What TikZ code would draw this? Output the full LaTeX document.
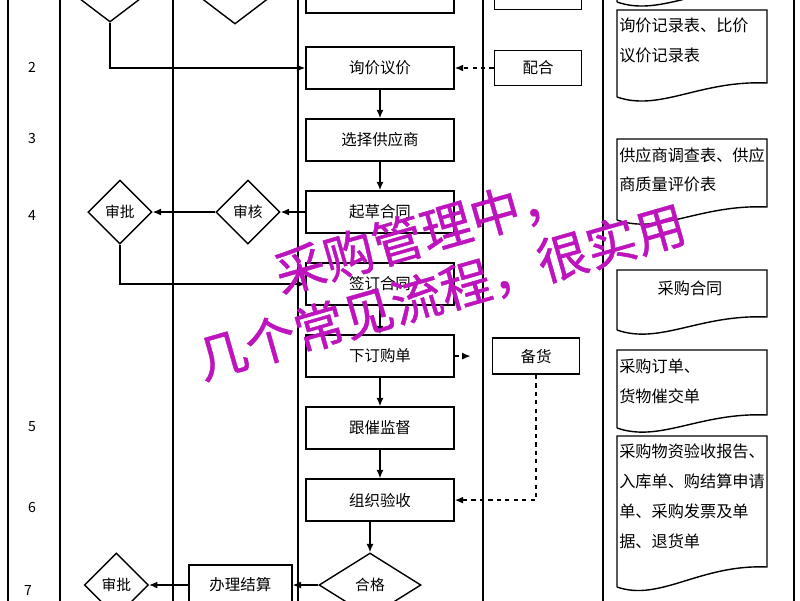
\documentclass[tikz,border=0pt]{standalone}
\usepackage{fontspec}
\setmainfont{Noto Sans CJK SC}
\newfontfamily\wmfont[FakeBold=0.9]{Noto Sans CJK SC}
\usepackage{tikz}
\usetikzlibrary{shapes, arrows, arrows.meta, positioning}
\definecolor{wmpurple}{RGB}{190,20,190}

\begin{document}
\begin{tikzpicture}[auto,>={Latex[length=6pt,width=5pt]}, x=0.025cm, y=-0.025cm]

\tikzstyle{block} = [draw, shape=rectangle, minimum height=1.05cm, minimum width=3.7cm, node distance=1.8cm, line width=1.1pt, font=\fontsize{11}{13}\selectfont]
\tikzstyle{side} = [draw, shape=rectangle, minimum height=0.88cm, minimum width=2.18cm, line width=1.1pt, font=\fontsize{11}{13}\selectfont]
\tikzstyle{check} = [draw, shape=diamond, minimum height=1.6cm, minimum width=1.6cm, inner sep=0pt, line width=1pt, font=\fontsize{10.5}{12}\selectfont]
\tikzstyle{doctext} = [anchor=north west, align=left, inner sep=0pt, font=\fontsize{11.5}{21.3}\selectfont]
\tikzstyle{lane} = [line width=1pt]
\tikzstyle{num} = [font=\fontsize{10}{12}\selectfont]
\tikzstyle{wm} = [text=wmpurple, font=\wmfont\fontsize{36}{40}\selectfont, rotate=16]

\useasboundingbox (0,0) rectangle (800,600);
\fill[white] (0,0) rectangle (800,600);
\clip (0,0) rectangle (800,600);

%Swim Lanes and Row Numbers
\foreach \x in {8,60,173,298,483,603,794}
  \draw[lane] (\x,-10) -- (\x,610);
\foreach \n/\y in {2/67,3/138,4/215,5/427,6/507}
  \node[num] (row\n) at (32,\y) {\n};
\node[num] (row7) at (28,590) {7};

%Creating Blocks and Decision Nodes
\node[block] at (380,68) (xj) {询价议价};
\node[block, node distance=1.9cm, above of=xj] (plan) {};
\node[block, below of=xj] (xz) {选择供应商};
\node[block, below of=xz] (qc) {起草合同};
\node[block, below of=qc] (qd) {签订合同};
\node[block, below of=qd] (xd) {下订购单};
\node[block, below of=xd] (gc) {跟催监督};
\node[block, below of=gc] (ys) {组织验收};
\node[side, node distance=3.95cm, right of=plan] (need) {};
\node[side, node distance=3.95cm, right of=xj] (ph) {配合};
\node[side, node distance=3.9cm, right of=xd, minimum height=0.9cm] (bh) {备货};
\node[check, minimum width=2.1cm] at (110,-10) (td1) {};
\node[check, minimum width=2.1cm] at (235,-8) (td2) {};
\node[check, node distance=3.3cm, left of=qc] (sh) {审核};
\node[check, node distance=3.2cm, left of=sh] (sp) {审批};
\node[check, minimum width=2.55cm] at (370,585) (hg) {合格};
\node[block, node distance=3.24cm, left of=hg, minimum width=2.575cm, minimum height=1cm] (bl) {办理结算};
\node[check, node distance=3.1cm, left of=bl] (sp2) {审批};

%Documents
\foreach \t/\r/\l in {-80/-12/2, 10/83/97, 139/207/220, 270/317/330, 350/415/428, 436/567/587}
  \draw[line width=1pt] (617,\l) -- (617,\t) -- (767,\t) -- (767,\r) .. controls +(-67,-3) and +(43,15) .. (617,\l);
\node[doctext] at (619,18) (d1) {询价记录表、比价\\议价记录表};
\node[doctext] at (619,147) (d2) {供应商调查表、供应\\商质量评价表};
\node[font=\fontsize{11.5}{14}\selectfont] at (690,288) (d3) {采购合同};
\node[doctext] at (619,359) (d4) {采购订单、\\货物催交单};
\node[doctext] at (619,444) (d5) {采购物资验收报告、\\入库单、购结算申请\\单、采购发票及单\\据、退货单};

%Conecting Blocks
\draw[->, line width=1pt] (xj) -- (xz);
\draw[->, line width=1pt] (xz) -- (qc);
\draw[->, line width=1pt] (qd) -- (xd);
\draw[->, line width=1pt] (xd) -- (gc);
\draw[->, line width=1pt] (gc) -- (ys);
\draw[->, line width=1pt] (ys.south -| hg.north) -- (hg);
\draw[->, line width=1pt] (td1) |- (xj);
\draw[->, line width=1pt] (qc) -- (sh);
\draw[->, line width=1pt] (sh) -- (sp);
\draw[->, line width=1pt] (sp) |- (qd);
\draw[->, line width=1pt] (hg) -- (bl);
\draw[->, line width=1pt] (bl) -- (sp2);
\draw[->, line width=1pt, dashed] (ph) -- (xj);
\draw[->, line width=1pt, dashed, shorten >=15pt] (xd) -- (bh);
\draw[->, line width=1pt, dashed] (bh) |- (ys);

%Watermark
\node[wm] at (422,234) (wm1) {采购管理中，};
\node[wm] at (441,292) (wm2) {几个常见流程，很实用};
\end{tikzpicture}
\end{document}
